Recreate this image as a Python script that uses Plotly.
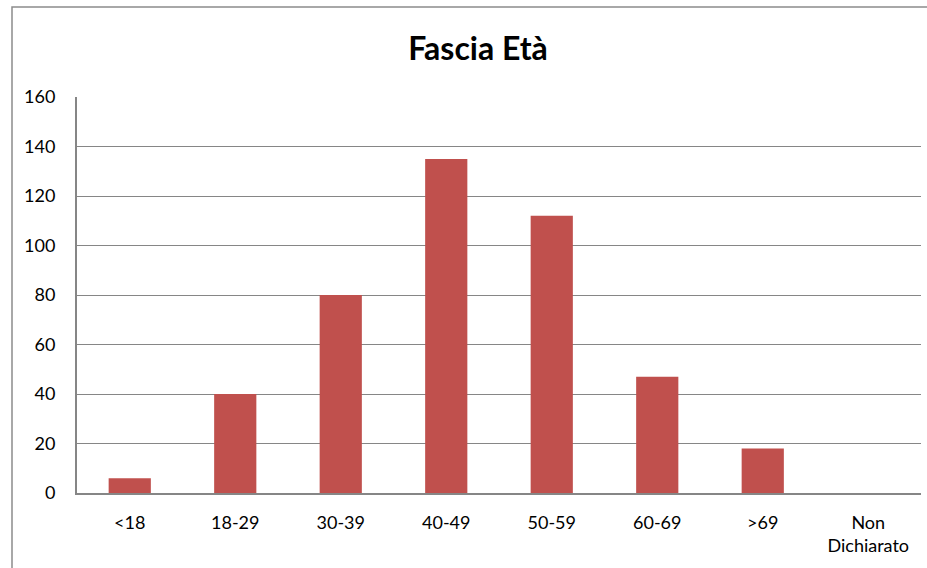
import plotly.graph_objects as go

categories = ["<18", "18-29", "30-39", "40-49", "50-59", "60-69", ">69", "Non<br>Dichiarato"]
values = [6, 40, 80, 135, 112, 47, 18, 0]
y_ticks = [0, 20, 40, 60, 80, 100, 120, 140, 160]

W, H = 927, 568
ml, mt = 77, 97
plot_right, plot_bottom = 921, 493
mr, mb = W - plot_right, H - plot_bottom
pw, ph = W - ml - mr, H - mt - mb

fig = go.Figure(go.Bar(x=categories, y=values, marker=dict(color="#C0504D", line=dict(width=0))))

font = "Lato, 'Open Sans', sans-serif"
fig.update_layout(
    width=W, height=H,
    margin=dict(l=ml, r=mr, t=mt, b=mb),
    paper_bgcolor="white", plot_bgcolor="white",
    bargap=0.6,
    showlegend=False,
    title=dict(text="<b>Fascia Età</b>", x=478 / W, xref="container", xanchor="center",
               y=1 - 49 / H, yref="container", yanchor="middle",
               font=dict(family=font, size=32, color="black")),
    font=dict(family=font, size=18, color="black"),
    xaxis=dict(showline=True, linecolor="#868686", linewidth=2, showgrid=False,
               ticks="", ticklabelstandoff=12, tickfont=dict(size=18)),
    yaxis=dict(range=[0, 160], tickvals=y_ticks, showline=True, linecolor="#868686", linewidth=2,
               showgrid=True, gridcolor="#868686", gridwidth=1, zeroline=False,
               ticks="", ticklabelstandoff=16, tickfont=dict(size=18)),
    shapes=[dict(type="rect", xref="paper", yref="paper",
                 x0=(12 - ml) / pw, x1=1.2, y0=-0.5, y1=(plot_bottom - 7) / ph,
                 line=dict(color="#8C8C8C", width=1.5), fillcolor="rgba(0,0,0,0)", layer="below")],
)

fig.write_html(
    "out.html",
    config={"displayModeBar": False},
    post_script="document.body.style.margin='0';document.body.style.overflow='hidden';",
)
